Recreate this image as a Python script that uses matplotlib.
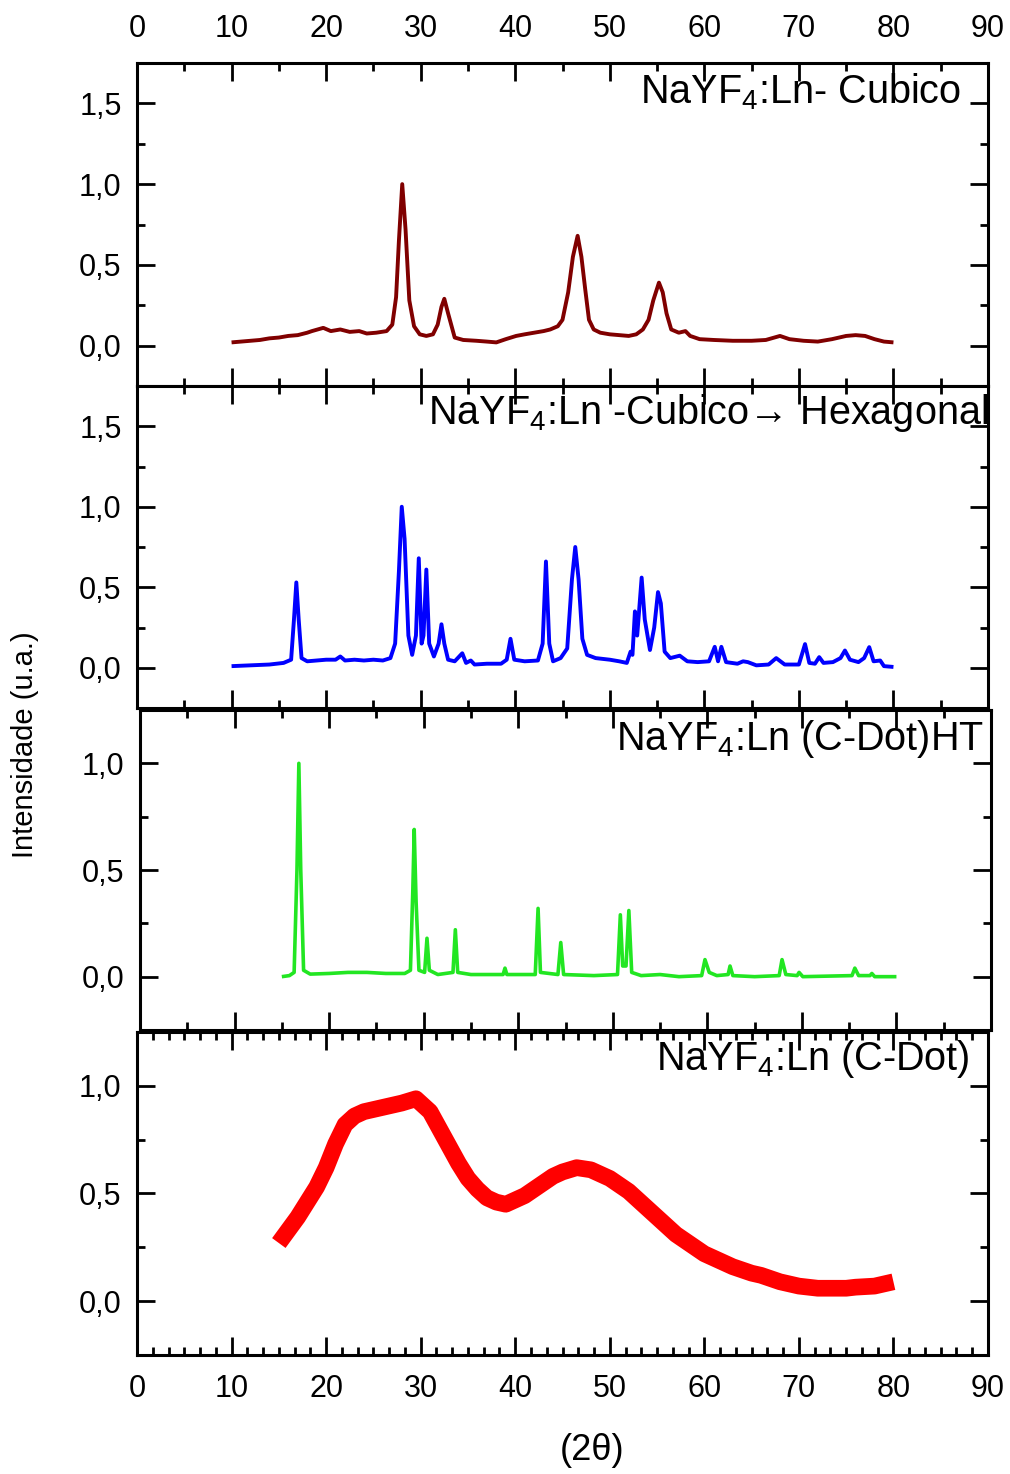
import matplotlib
matplotlib.use("Agg")
import matplotlib.pyplot as plt
from matplotlib.ticker import MultipleLocator, FixedLocator

plt.rcParams['font.family'] = ['Liberation Sans', 'DejaVu Sans']
plt.rcParams['mathtext.fontset'] = 'custom'
plt.rcParams['mathtext.rm'] = 'Liberation Sans'

# --- data (2theta, normalised intensity) ---
cub_x = [10, 11, 12, 13, 14, 15, 16, 17, 18, 18.5, 19.7, 20.5, 21.5, 22.5, 23.5, 24.3, 25.3, 26.4,
         27.0, 27.4, 27.7, 28.05, 28.4, 28.8, 29.3, 29.9, 30.6, 31.3, 31.8, 32.2, 32.5, 32.9, 33.6,
         34.5, 35.9, 37.0, 38.0, 39.0, 40.1, 41, 42, 43, 43.7, 44.5, 45.0, 45.6, 46.1, 46.6, 47.0,
         47.4, 47.8, 48.3, 49.0, 50, 51, 52, 52.8, 53.5, 54.1, 54.6, 55.2, 55.6, 56.0, 56.5, 57.3,
         58.0, 58.5, 59.5, 61, 63, 65, 66.5, 68, 69, 70.5, 72, 73.5, 75, 76, 77, 78, 79, 80]
cub_y = [0.02, 0.025, 0.03, 0.035, 0.045, 0.05, 0.06, 0.065, 0.08, 0.09, 0.11, 0.09, 0.10, 0.085,
         0.09, 0.075, 0.08, 0.09, 0.13, 0.30, 0.65, 1.0, 0.72, 0.28, 0.12, 0.07, 0.06, 0.07, 0.13,
         0.24, 0.29, 0.20, 0.05, 0.035, 0.03, 0.025, 0.02, 0.04, 0.06, 0.07, 0.08, 0.09, 0.10, 0.12,
         0.16, 0.33, 0.55, 0.68, 0.55, 0.35, 0.16, 0.10, 0.08, 0.07, 0.065, 0.06, 0.07, 0.10, 0.16,
         0.28, 0.39, 0.33, 0.20, 0.10, 0.08, 0.09, 0.06, 0.04, 0.035, 0.03, 0.03, 0.035, 0.06, 0.04,
         0.03, 0.025, 0.04, 0.06, 0.065, 0.06, 0.04, 0.025, 0.02]

hex_x = [10, 12, 14, 15.5, 16.3, 16.6, 16.85, 17.1, 17.4, 18, 19, 20, 21, 21.5, 22, 23, 24, 25, 26,
         26.8, 27.3, 27.7, 28.0, 28.3, 28.7, 29.1, 29.5, 29.8, 30.1, 30.3, 30.6, 30.9, 31.4, 31.9,
         32.2, 32.5, 32.9, 33.6, 34.4, 34.8, 35.3, 35.7, 37, 38.5, 39.1, 39.5, 39.9, 41, 42.4, 42.9,
         43.25, 43.6, 44.0, 44.8, 45.5, 46.0, 46.35, 46.7, 47.1, 47.6, 48.5, 50, 51, 51.8, 52.2, 52.4,
         52.66, 52.9, 53.37, 53.7, 54.25, 54.7, 55.1, 55.4, 55.8, 56.4, 57.4, 58.2, 59.3, 60.5, 61.1,
         61.45, 61.8, 62.3, 63.5, 64.1, 64.6, 65.5, 66.8, 67.6, 68.5, 70.0, 70.65, 71.1, 71.7, 72.15,
         72.6, 73.6, 74.4, 74.87, 75.4, 76.3, 76.9, 77.44, 77.9, 78.6, 79.0, 80]
hex_y = [0.01, 0.015, 0.02, 0.03, 0.05, 0.3, 0.53, 0.3, 0.06, 0.04, 0.045, 0.05, 0.05, 0.07, 0.045,
         0.05, 0.045, 0.05, 0.045, 0.06, 0.15, 0.6, 1.0, 0.8, 0.2, 0.08, 0.2, 0.68, 0.15, 0.2, 0.61,
         0.15, 0.07, 0.15, 0.27, 0.15, 0.05, 0.04, 0.09, 0.03, 0.045, 0.02, 0.025, 0.025, 0.05, 0.18,
         0.05, 0.04, 0.045, 0.15, 0.66, 0.15, 0.04, 0.06, 0.12, 0.55, 0.75, 0.55, 0.18, 0.08, 0.06,
         0.05, 0.04, 0.03, 0.1, 0.08, 0.35, 0.2, 0.56, 0.3, 0.11, 0.25, 0.47, 0.4, 0.1, 0.06, 0.075,
         0.04, 0.035, 0.04, 0.13, 0.04, 0.13, 0.035, 0.025, 0.04, 0.035, 0.015, 0.02, 0.06, 0.02,
         0.02, 0.147, 0.03, 0.025, 0.066, 0.03, 0.035, 0.06, 0.107, 0.05, 0.035, 0.06, 0.128, 0.04,
         0.045, 0.01, 0.005]

ht_x = [15, 15.8, 16.3, 16.6, 16.8, 17.0, 17.3, 18, 20, 22, 24, 26, 28, 28.6, 28.85, 29.0, 29.2,
        29.5, 30.1, 30.35, 30.6, 31.5, 33.1, 33.35, 33.6, 35, 37, 38.4, 38.6, 38.8, 41.8, 42.1,
        42.35, 44.2, 44.5, 44.8, 48, 50.5, 50.8, 51.05, 51.4, 51.7, 52.0, 53, 55, 57, 59.4, 59.75,
        60.2, 61, 62.2, 62.4, 62.7, 65, 67.6, 67.9, 68.3, 69.5, 69.7, 70.1, 75.3, 75.6, 76, 77.2,
        77.4, 77.7, 80]
ht_y = [0.0, 0.005, 0.02, 0.5, 1.0, 0.5, 0.03, 0.012, 0.015, 0.02, 0.02, 0.015, 0.015, 0.03, 0.4,
        0.69, 0.35, 0.03, 0.02, 0.18, 0.03, 0.01, 0.02, 0.22, 0.02, 0.01, 0.01, 0.01, 0.04, 0.01,
        0.01, 0.32, 0.02, 0.01, 0.16, 0.01, 0.005, 0.01, 0.29, 0.05, 0.05, 0.31, 0.02, 0.005, 0.01,
        0.0, 0.005, 0.08, 0.02, 0.005, 0.01, 0.05, 0.005, 0.0, 0.005, 0.08, 0.01, 0.005, 0.02, 0.0,
        0.005, 0.04, 0.005, 0.005, 0.015, 0.0, 0.0]

cdot_x = [15, 16, 17, 18, 19, 20, 21, 22, 23, 24, 26, 28, 29.5, 31, 32, 33, 34, 35, 36, 37, 38,
          39, 40, 41, 42, 43, 44, 45, 46.5, 48, 49, 50, 51, 52, 53, 54, 55, 56, 57, 58, 59, 60, 61,
          62, 63, 65, 66, 68, 70, 72, 74, 75, 76, 78, 79, 80]
cdot_y = [0.27, 0.33, 0.39, 0.46, 0.53, 0.62, 0.73, 0.82, 0.86, 0.88, 0.90, 0.92, 0.94, 0.88, 0.80,
          0.72, 0.64, 0.57, 0.52, 0.48, 0.46, 0.45, 0.47, 0.49, 0.52, 0.55, 0.58, 0.60, 0.62, 0.61,
          0.59, 0.57, 0.54, 0.51, 0.47, 0.43, 0.39, 0.35, 0.31, 0.28, 0.25, 0.22, 0.20, 0.18, 0.16,
          0.13, 0.12, 0.09, 0.07, 0.06, 0.06, 0.06, 0.065, 0.07, 0.08, 0.09]

labels = [r'NaYF$_\mathregular{4}$:Ln- Cubico',
          r'NaYF$_\mathregular{4}$:Ln -Cubico' + '\u2192 Hexagonal',
          r'NaYF$_\mathregular{4}$:Ln (C-Dot)HT',
          r'NaYF$_\mathregular{4}$:Ln (C-Dot)']
colors = ['#800000', '#0000ff', '#22e622', '#ff0000']
widths = [2.8, 2.8, 2.6, 12]
ylims = [(-0.25, 1.75), (-0.25, 1.75), (-0.25, 1.25), (-0.25, 1.25)]
yticks_big = [0.0, 0.5, 1.0, 1.5]
ytick_labels_big = ['0,0', '0,5', '1,0', '1,5']
xticks = [0, 10, 20, 30, 40, 50, 60, 70, 80, 90]

W, H = 1010, 1474
fig = plt.figure(figsize=(W / 100, H / 100), dpi=100)

# panel boxes in pixels: left, top, right, bottom
boxes = [(137, 63, 988, 386), (137, 386, 988, 708), (140, 710, 991, 1030), (137, 1032, 988, 1355)]
# text anchor (axes fraction): right x, top y
txt_pos = [(0.969, 0.975), (1.0, 0.98), (0.992, 0.975), (0.979, 0.98)]
series = [(cub_x, cub_y), (hex_x, hex_y), (ht_x, ht_y), (cdot_x, cdot_y)]

for i, (l, t, r, b) in enumerate(boxes):
    ax = fig.add_axes([l / W, 1 - b / H, (r - l) / W, (b - t) / H])
    xs, ys = series[i]
    ax.plot(xs, ys, color=colors[i], lw=widths[i], solid_joinstyle='round',
            solid_capstyle='butt')
    ax.set_xlim(0, 90)
    ax.set_ylim(*ylims[i])

    ax.xaxis.set_major_locator(FixedLocator(xticks))
    if i == 3:
        ax.xaxis.set_minor_locator(MultipleLocator(10 / 6))
    else:
        ax.xaxis.set_minor_locator(MultipleLocator(5))
    ax.yaxis.set_minor_locator(MultipleLocator(0.25))
    nt = 4 if i < 2 else 3
    ax.set_yticks(yticks_big[:nt])
    ax.set_yticklabels(ytick_labels_big[:nt])
    ax.set_xticklabels([str(v) for v in xticks])

    ax.tick_params(which='both', direction='in', top=True, right=True, width=2)
    ax.tick_params(which='major', length=13)
    ax.tick_params(which='minor', length=6)
    ax.tick_params(axis='y', labelsize=22, pad=11)
    ax.tick_params(axis='x', labelsize=22, pad=14,
                   labeltop=(i == 0), labelbottom=(i == 3))
    for s in ax.spines.values():
        s.set_linewidth(2.2)

    tx, ty = txt_pos[i]
    ax.text(tx, ty, labels[i], transform=ax.transAxes, ha='right', va='top', fontsize=28.5)

fig.text(25 / W, 1 - 745 / H, 'Intensidade (u.a.)', rotation=90, ha='center', va='center',
         fontsize=21)
fig.text(592 / W, 1 - 1450 / H, '(2\u03b8)', ha='center', va='center', fontsize=26)

fig.savefig('out.png', dpi=100)
